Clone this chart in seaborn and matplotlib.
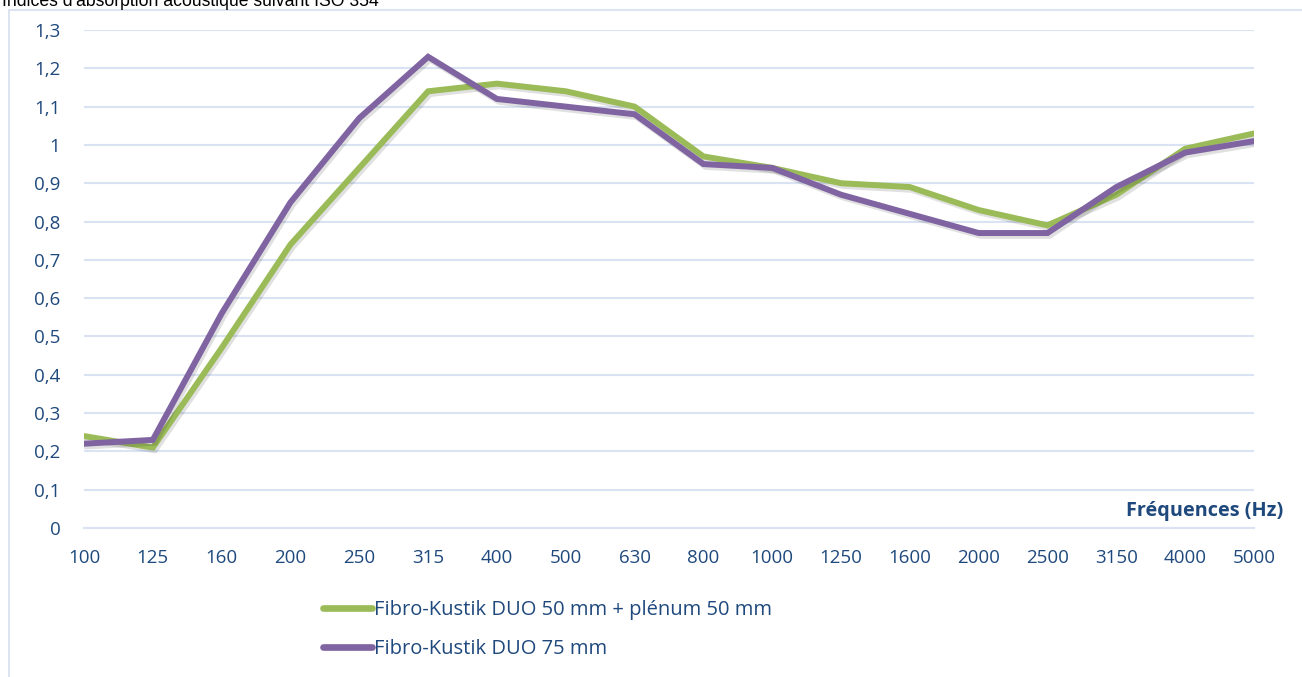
import pandas as pd
import numpy as np
import seaborn as sns
import matplotlib.pyplot as plt
import matplotlib.patheffects as pe
from matplotlib.patches import Rectangle

# frequences (Hz) et indices d'absorption
frequences = ["100", "125", "160", "200", "250", "315", "400", "500", "630",
              "800", "1000", "1250", "1600", "2000", "2500", "3150", "4000", "5000"]
duo50_plenum = [0.24, 0.21, 0.47, 0.74, 0.94, 1.14, 1.16, 1.14, 1.10,
                0.97, 0.94, 0.90, 0.89, 0.83, 0.79, 0.87, 0.99, 1.03]
duo75 = [0.22, 0.23, 0.56, 0.85, 1.07, 1.23, 1.12, 1.10, 1.08,
         0.95, 0.94, 0.87, 0.82, 0.77, 0.77, 0.89, 0.98, 1.01]
series = ["Fibro-Kustik DUO 50 mm + plénum 50 mm", "Fibro-Kustik DUO 75 mm"]
colors = ["#9BBB59", "#8064A2"]
y_ticks = [0, 0.1, 0.2, 0.3, 0.4, 0.5, 0.6, 0.7, 0.8, 0.9, 1.0, 1.1, 1.2, 1.3]

df = pd.DataFrame({
    "Fréquence": frequences * 2,
    "Alpha": duo50_plenum + duo75,
    "Produit": [series[0]] * len(frequences) + [series[1]] * len(frequences),
})

sns.set_style("white")
plt.rcParams["font.family"] = ["Open Sans", "DejaVu Sans"]

text_col = "#1F497D"
grid_col = "#D9E3F3"

fig = plt.figure(figsize=(13.02, 6.77), dpi=100)
ax = fig.add_axes([84 / 1302, 149 / 677, 1170 / 1302, 498 / 677])

sns.lineplot(data=df, x="Fréquence", y="Alpha", hue="Produit", sort=False,
             palette=colors, linewidth=4.3, ax=ax, legend=True)
for line in ax.lines:
    line.set_solid_joinstyle("miter")
    line.set_path_effects([pe.SimpleLineShadow(offset=(1.5, -2), alpha=0.12),
                           pe.Normal()])

ax.set_xlim(0, len(frequences) - 1)
ax.set_ylim(0, 1.3)
ax.set_yticks(y_ticks)
ax.set_yticklabels([("%g" % v).replace(".", ",") for v in y_ticks])
ax.yaxis.grid(True, color=grid_col, linewidth=1.5)
ax.set_xlabel("")
ax.set_ylabel("")
for s in ["left", "right", "top"]:
    ax.spines[s].set_visible(False)
ax.spines["bottom"].set_color(grid_col)
ax.spines["bottom"].set_linewidth(1.5)
ax.tick_params(axis="x", direction="out", length=5, width=1.5, color=grid_col,
               labelcolor=text_col, labelsize=13.5, pad=10)
ax.tick_params(axis="y", length=0, labelcolor=text_col, labelsize=13.5, pad=17)

fig.text(1283 / 1302, 161 / 677, "Fréquences (Hz)", ha="right", va="baseline",
         fontsize=14.3, fontweight="bold", color=text_col)

leg = ax.legend(loc="upper left", bbox_to_anchor=(305 / 1302, 95 / 677),
                bbox_transform=fig.transFigure, frameon=False, fontsize=14.5,
                handlelength=2.45, handletextpad=0.1, labelspacing=0.95)
for t in leg.get_texts():
    t.set_color(text_col)
for h in leg.get_lines():
    h.set_linewidth(4.8)
    h.set_solid_capstyle("round")
    h.set_path_effects([])

fig.patches.append(Rectangle((9 / 1302, -0.02), 1300 / 1302, 667 / 677 + 0.02,
                             transform=fig.transFigure, fill=False,
                             edgecolor="#D5DFEF", linewidth=1.2))
fig.text(2 / 1302, 671 / 677, "Indices d'absorption acoustique suivant ISO 354",
         ha="left", va="baseline", fontsize=12.7, family="Liberation Sans",
         color="black")

fig.savefig("out.png", dpi=100)
